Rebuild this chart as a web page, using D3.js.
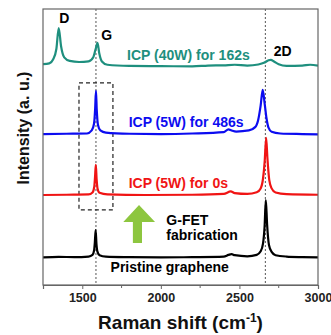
<!DOCTYPE html>
<html>
<head>
<meta charset="utf-8">
<script src="https://cdn.jsdelivr.net/npm/d3@7"></script>
<style>
  body { margin: 0; background: #fff; }
  text { font-family: "Liberation Sans", Arial, sans-serif; font-weight: bold; }
</style>
</head>
<body>
<svg id="chart" width="331" height="335"></svg>
<script>
// Raman spectra, intensity in arbitrary units (already stacked)
var pristine = [[1250,10.0],[1350,10.2],[1450,10.1],[1540,10.3],[1565,10.9],[1575,12.5],[1580,15.5],[1585,19.9],
  [1590,15.0],[1596,12.2],[1610,10.8],[1650,10.3],[1800,10.1],[2000,10.0],[2200,10.1],[2400,10.3],[2430,10.9],
  [2450,11.2],[2470,10.8],[2550,10.4],[2610,10.9],[2635,12.2],[2650,15.0],[2660,21.0],[2668,30.8],[2676,22.0],
  [2688,14.5],[2705,12.0],[2730,10.8],[2800,10.3],[2900,10.1],[3000,10.0]];

var icp5w0s = [[1250,32.6],[1400,32.7],[1540,32.8],[1565,33.5],[1576,35.5],[1581,39.0],[1586,43.5],[1591,38.5],
  [1597,35.0],[1610,33.4],[1660,32.8],[1900,32.6],[2200,32.7],[2400,33.0],[2445,33.9],[2470,33.3],[2550,33.0],
  [2610,33.6],[2635,35.0],[2650,38.5],[2661,45.0],[2670,53.3],[2678,46.0],[2690,38.0],[2705,35.0],[2730,33.5],
  [2800,32.9],[3000,32.7]];

var icp5w486s = [[1250,54.7],[1400,54.8],[1530,54.9],[1560,56.0],[1575,58.5],[1582,64.0],[1587,70.3],[1592,63.5],
  [1600,58.0],[1615,56.0],[1650,55.2],[1800,54.8],[2000,54.7],[2200,54.9],[2400,55.4],[2430,56.4],[2450,56.0],
  [2480,55.6],[2560,56.0],[2600,57.2],[2620,60.0],[2635,65.0],[2648,70.7],[2660,66.0],[2672,60.5],[2685,57.0],
  [2705,55.5],[2760,54.9],[2900,54.7],[3000,54.6]];

var icp40w162s = [[1250,80.0],[1290,80.3],[1315,81.8],[1335,85.5],[1350,93.1],[1365,86.5],[1385,82.5],[1420,81.2],
  [1480,80.8],[1540,81.0],[1570,82.5],[1585,85.5],[1597,87.7],[1608,84.0],[1625,81.0],[1660,79.8],[1800,79.4],
  [2000,79.3],[2200,79.2],[2300,79.5],[2400,79.6],[2470,79.8],[2550,79.5],[2620,79.9],[2660,80.6],[2685,81.4],
  [2700,81.6],[2720,81.0],[2750,80.0],[2800,79.4],[2900,79.5],[2950,79.8],[3000,79.5]];

var seriesNames = ["Pristine graphene", "ICP (5W) for 0s", "ICP (5W) for 486s", "ICP (40W) for 162s"];
var seriesColors = ["#000000", "#f01414", "#0c0cf0", "#1e8f7e"];
var seriesData = [pristine, icp5w0s, icp5w486s, icp40w162s];

var xTicks = [1500, 2000, 2500, 3000];
var xMinorTicks = [1750, 2250, 2750];
var peakLines = [1587, 2665];

var svg = d3.select("#chart");
var margin = {top: 9, right: 13, bottom: 50, left: 43};
var width = +svg.attr("width") - margin.left - margin.right,
    height = +svg.attr("height") - margin.top - margin.bottom;

var x = d3.scaleLinear().domain([1250, 3000]).range([margin.left, margin.left + width]);
var y = d3.scaleLinear().domain([0, 100]).range([margin.top + height, margin.top]);

svg.append("rect").attr("width", 331).attr("height", 335).attr("fill", "#fff");

svg.append("defs").append("clipPath").attr("id", "clip")
  .append("rect")
  .attr("x", margin.left).attr("y", margin.top)
  .attr("width", width).attr("height", height);

// dotted peak guides
svg.selectAll(".guide").data(peakLines).enter().append("line")
  .attr("class", "guide")
  .attr("x1", function(d) { return x(d); }).attr("x2", function(d) { return x(d); })
  .attr("y1", y(100)).attr("y2", y(0))
  .attr("stroke", "#555").attr("stroke-width", 1).attr("stroke-dasharray", "2,2");

// dashed box around G peaks
svg.append("rect")
  .attr("x", x(1479)).attr("y", y(73.2))
  .attr("width", x(1695) - x(1479)).attr("height", y(27.2) - y(73.2))
  .attr("fill", "none").attr("stroke", "#222").attr("stroke-width", 1.2)
  .attr("stroke-dasharray", "4,3");

var line = d3.line()
  .x(function(d) { return x(d[0]); })
  .y(function(d) { return y(d[1]); })
  .curve(d3.curveMonotoneX);

svg.append("g").attr("clip-path", "url(#clip)")
  .selectAll("path").data(seriesData).enter().append("path")
  .attr("d", line)
  .attr("fill", "none")
  .attr("stroke", function(d, i) { return seriesColors[i]; })
  .attr("stroke-width", 2.2)
  .attr("stroke-linejoin", "round");

// frame
svg.append("rect")
  .attr("x", margin.left).attr("y", margin.top)
  .attr("width", width).attr("height", height)
  .attr("fill", "none").attr("stroke", "#666").attr("stroke-width", 1.2);

// x axis
var xAxis = svg.append("g")
  .attr("transform", "translate(0," + (margin.top + height) + ")")
  .call(d3.axisBottom(x).tickValues(xTicks).tickFormat(d3.format("d")).tickSize(4).tickPadding(4));
xAxis.select(".domain").attr("stroke", "#666").attr("stroke-width", 1.2);
xAxis.selectAll(".tick line").attr("stroke", "#666");
xAxis.selectAll(".tick text").attr("font-size", 12.5).attr("fill", "#222")
  .attr("font-family", "Liberation Sans, Arial, sans-serif").attr("font-weight", "bold");

svg.append("g")
  .attr("transform", "translate(0," + (margin.top + height) + ")")
  .selectAll("line").data(xMinorTicks).enter().append("line")
  .attr("x1", function(d) { return x(d); }).attr("x2", function(d) { return x(d); })
  .attr("y1", 0).attr("y2", 3).attr("stroke", "#666");

// series labels
var labelPos = [[1680, 4.8], [1795, 35.0], [1795, 57.2], [1785, 81.5]];
svg.selectAll(".slabel").data(seriesNames).enter().append("text")
  .attr("class", "slabel")
  .attr("x", function(d, i) { return x(labelPos[i][0]); })
  .attr("y", function(d, i) { return y(labelPos[i][1]); })
  .attr("font-size", 14)
  .attr("fill", function(d, i) { return seriesColors[i]; })
  .text(function(d) { return d; });

// peak names
var peakNames = ["D", "G", "2D"];
var peakNamePos = [[1385, 94.9], [1655, 88.8], [2775, 83.0]];
svg.selectAll(".pname").data(peakNames).enter().append("text")
  .attr("class", "pname")
  .attr("x", function(d, i) { return x(peakNamePos[i][0]); })
  .attr("y", function(d, i) { return y(peakNamePos[i][1]); })
  .attr("text-anchor", "middle")
  .attr("font-size", 14)
  .text(function(d) { return d; });

// green arrow
var arrowPts = [[1861, 29.0], [1963, 22.8], [1880, 22.8], [1880, 15.2], [1822, 15.2], [1822, 22.8], [1761, 22.8]];
svg.append("polygon")
  .attr("points", arrowPts.map(function(p) { return x(p[0]) + "," + y(p[1]); }).join(" "))
  .attr("fill", "#8dc63f");

svg.append("text").attr("x", x(2035)).attr("y", y(21.7)).attr("font-size", 14).text("G-FET");
svg.append("text").attr("x", x(2035)).attr("y", y(16.3)).attr("font-size", 14).text("fabrication");

// axis titles
var xt = svg.append("text")
  .attr("x", margin.left + width / 2).attr("y", 329)
  .attr("text-anchor", "middle").attr("font-size", 19).attr("fill", "#111");
xt.append("tspan").text("Raman shift (cm");
xt.append("tspan").attr("dy", -7).attr("font-size", 12).text("-1");
xt.append("tspan").attr("dy", 7).text(")");

svg.append("text")
  .attr("transform", "translate(29," + 128 + ") rotate(-90)")
  .attr("text-anchor", "middle").attr("font-size", 16).attr("fill", "#111")
  .text("Intensity (a. u.)");
</script>
</body>
</html>
